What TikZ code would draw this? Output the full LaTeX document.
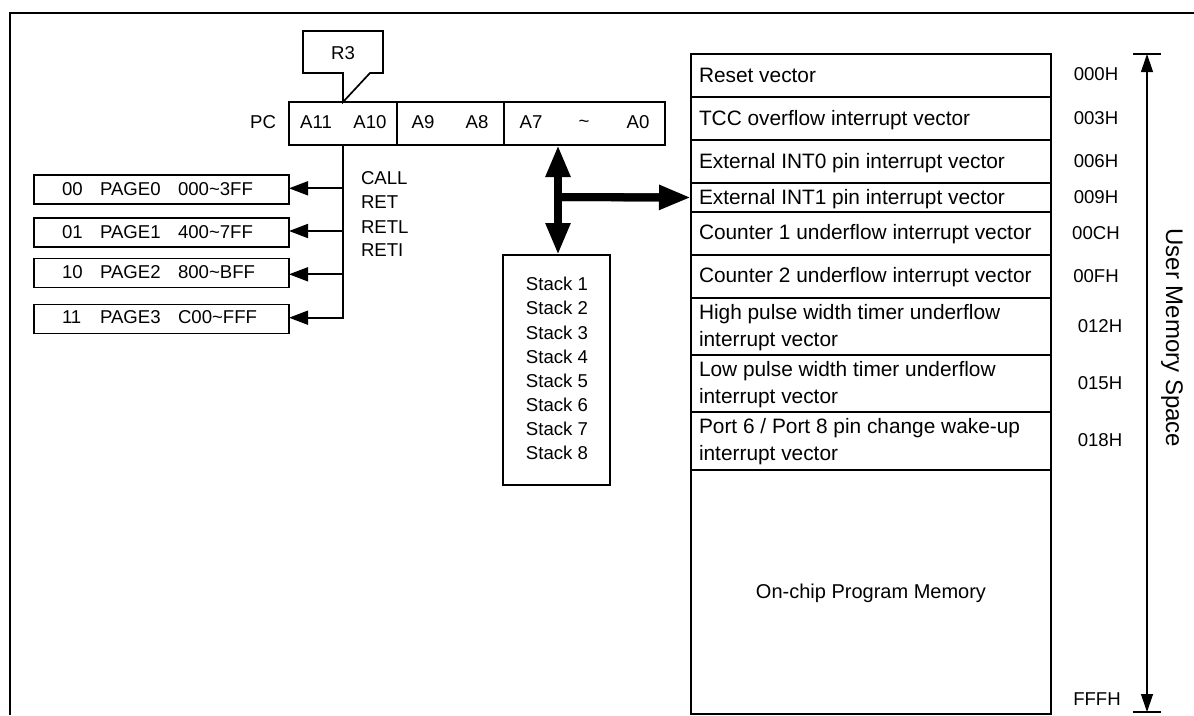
\documentclass[tikz,border=0pt]{standalone}
\usepackage{fontspec}
\setmainfont{Liberation Sans}
\usetikzlibrary{arrows.meta}
\newcommand{\fsmall}{\fontsize{18.6}{22}\selectfont}
\newcommand{\fbig}{\fontsize{20.85}{27}\selectfont}
\tikzset{
  every node/.style={font=\fsmall, inner sep=0pt, outer sep=0pt},
  ln/.style={line width=1.7pt, black},
  cell/.style={draw, line width=1.7pt},
  regcell/.style={cell, minimum height=43pt},
  pagebox/.style={cell, minimum width=255pt, minimum height=29pt, anchor=west},
  thinarrow/.style={line width=1.7pt, -{Triangle[length=19pt,width=14pt]}},
  fatarrow/.style={line width=8pt, -{Triangle[length=32pt,width=23pt]}},
  fatshaft/.style={line width=8pt},
  dimarrow/.style={line width=1.2pt, -{Triangle[length=18pt,width=12pt]}},
  memrow/.style={cell, minimum width=360pt, anchor=north west},
  memlabel/.style={font=\fbig, anchor=base west},
  memlabeltwo/.style={font=\fbig, anchor=west, align=left},
  addr/.style={anchor=center},
  tick/.style={line width=1.2pt},
}
\begin{document}
\begin{tikzpicture}[x=1pt,y=-1pt]
\useasboundingbox (0,0) rectangle (1194,715);
\fill[white] (0,0) rectangle (1194,715);
% frame
\coordinate (frameA) at (10,715);
\coordinate (frameB) at (10,13);
\coordinate (frameC) at (1194,13);
\draw[line width=1.8pt] (frameA) -- (frameB) -- (frameC);
% PC register
\node[anchor=east] (pc) at (276,122) {PC};
\node[regcell, minimum width=108pt] (r1) at (343,123.5) {};
\node[regcell, minimum width=107pt] (r2) at (450.5,123.5) {};
\node[regcell, minimum width=161pt] (r3cell) at (584.5,123.5) {};
\node (a11) at (316,122.5) {A11};
\node (a10) at (370,122.5) {A10};
\node (a9) at (423,122.5) {A9};
\node (a8) at (477,122.5) {A8};
\node (a7) at (531,122.5) {A7};
\node (tld) at (584,124) {\textasciitilde};
\node (a0) at (638,122.5) {A0};
% R3 callout
\node (r3) at (343,53) {R3};
\coordinate (tip) at (r1.north);
\draw[ln] (303,31) -- (383,31) -- (383,73) -- (370,73) -- (tip) -- (343,73) -- (303,73) -- cycle;
% pages
\node[pagebox] (p0) at (34,189.7) {};
\node[pagebox] (p1) at (34,232.8) {};
\node[pagebox] (p2) at (34,273) {};
\node[pagebox] (p3) at (34,319) {};
\foreach \n/\a/\b/\c/\y in {0/00/PAGE0/000\textasciitilde 3FF/189, 1/01/PAGE1/400\textasciitilde 7FF/232, 2/10/PAGE2/800\textasciitilde BFF/272, 3/11/PAGE3/C00\textasciitilde FFF/317.5}{
  \node[anchor=west] (pa\n) at (62,\y) {\a};
  \node[anchor=west] (pb\n) at (100,\y) {\b};
  \node[anchor=west] (pc\n) at (178,\y) {\c};
}
% bus
\coordinate (bus) at (r1.south);
\coordinate (e0) at ([yshift=1.4pt]p0.east);
\coordinate (e1) at ([yshift=1.8pt]p1.east);
\coordinate (e2) at ([yshift=-1.3pt]p2.east);
\coordinate (e3) at ([yshift=1.3pt]p3.east);
\draw[thinarrow] (bus) -- (bus|-e3) -- (e3);
\foreach \n in {0,1,2}{ \draw[thinarrow] (bus|-e\n) -- (e\n); }
\node[anchor=west] (call) at (361,178) {CALL};
\node[anchor=west] (ret) at (361,202) {RET};
\node[anchor=west] (retl) at (361,227) {RETL};
\node[anchor=west] (reti) at (361,250) {RETI};
% stack
\node[cell, minimum width=107pt, minimum height=230pt] (stack) at (556.5,370) {};
\foreach \i/\y in {1/284,2/308.2,3/332.4,4/356.6,5/380.7,6/404.9,7/429,8/453}{
  \node (s\i) at (557,\y) {Stack \i};
}
% memory
\foreach \n/\t/\h in {a/54/43,b/97/43,c/140/43,d/183/29,e/212/43,f/255/43,g/298/57,h/355/57,i/412/58,j/470/244}{
  \node[memrow, minimum height=\h pt] (m\n) at (691,\t) {};
}
\node[memlabel] (la) at (699,82) {Reset vector};
\node[memlabel] (lb) at (699,125) {TCC overflow interrupt vector};
\node[memlabel] (lc) at (699,168) {External INT0 pin interrupt vector};
\node[memlabel] (ld) at (699,204) {External INT1 pin interrupt vector};
\node[memlabel] (le) at (699,239) {Counter 1 underflow interrupt vector};
\node[memlabel] (lf) at (699,282) {Counter 2 underflow interrupt vector};
\node[memlabeltwo] (lg) at (699,328) {High pulse width timer underflow\\interrupt vector};
\node[memlabeltwo] (lh) at (699,385) {Low pulse width timer underflow\\interrupt vector};
\node[memlabeltwo] (li) at (699,442) {Port 6 / Port 8 pin change wake-up\\interrupt vector};
\node[font=\fontsize{20}{24}\selectfont] (lj) at (871,593) {On-chip Program Memory};
% addresses
\foreach \n/\t/\x/\y in {0/000H/1096/74,1/003H/1096/118,2/006H/1096/161,3/009H/1096/197,4/00CH/1096/233,5/00FH/1096/276,6/012H/1100/326,7/015H/1100/383,8/018H/1100/440,9/FFFH/1097/699}{
  \node[addr] (ad\n) at (\x,\y) {\t};
}
% fat arrows
\coordinate (hub) at (558,197);
\coordinate (hubtop) at (hub|-r3cell.south);
\coordinate (hubbot) at (hub|-stack.north);
\draw[fatarrow] (hub) -- (hubtop);
\draw[fatarrow] (hub) -- (hubbot);
\draw[fatshaft] (hub) -- ([xshift=-25pt]md.west);
\draw[fatarrow] (hub) -- (md.west);
% dimension
\coordinate (dtop) at (1147,54);
\coordinate (dbot) at (1147,712);
\draw[tick] (1133,54) -- (1161,54);
\draw[tick] (1133,712) -- (1161,712);
\draw[dimarrow] (1147,384) -- (dtop);
\draw[dimarrow] (1147,384) -- (dbot);
\node[rotate=-90, font=\fontsize{24}{28}\selectfont] (ums) at (1172,338) {User Memory Space};
\end{tikzpicture}
\end{document}
